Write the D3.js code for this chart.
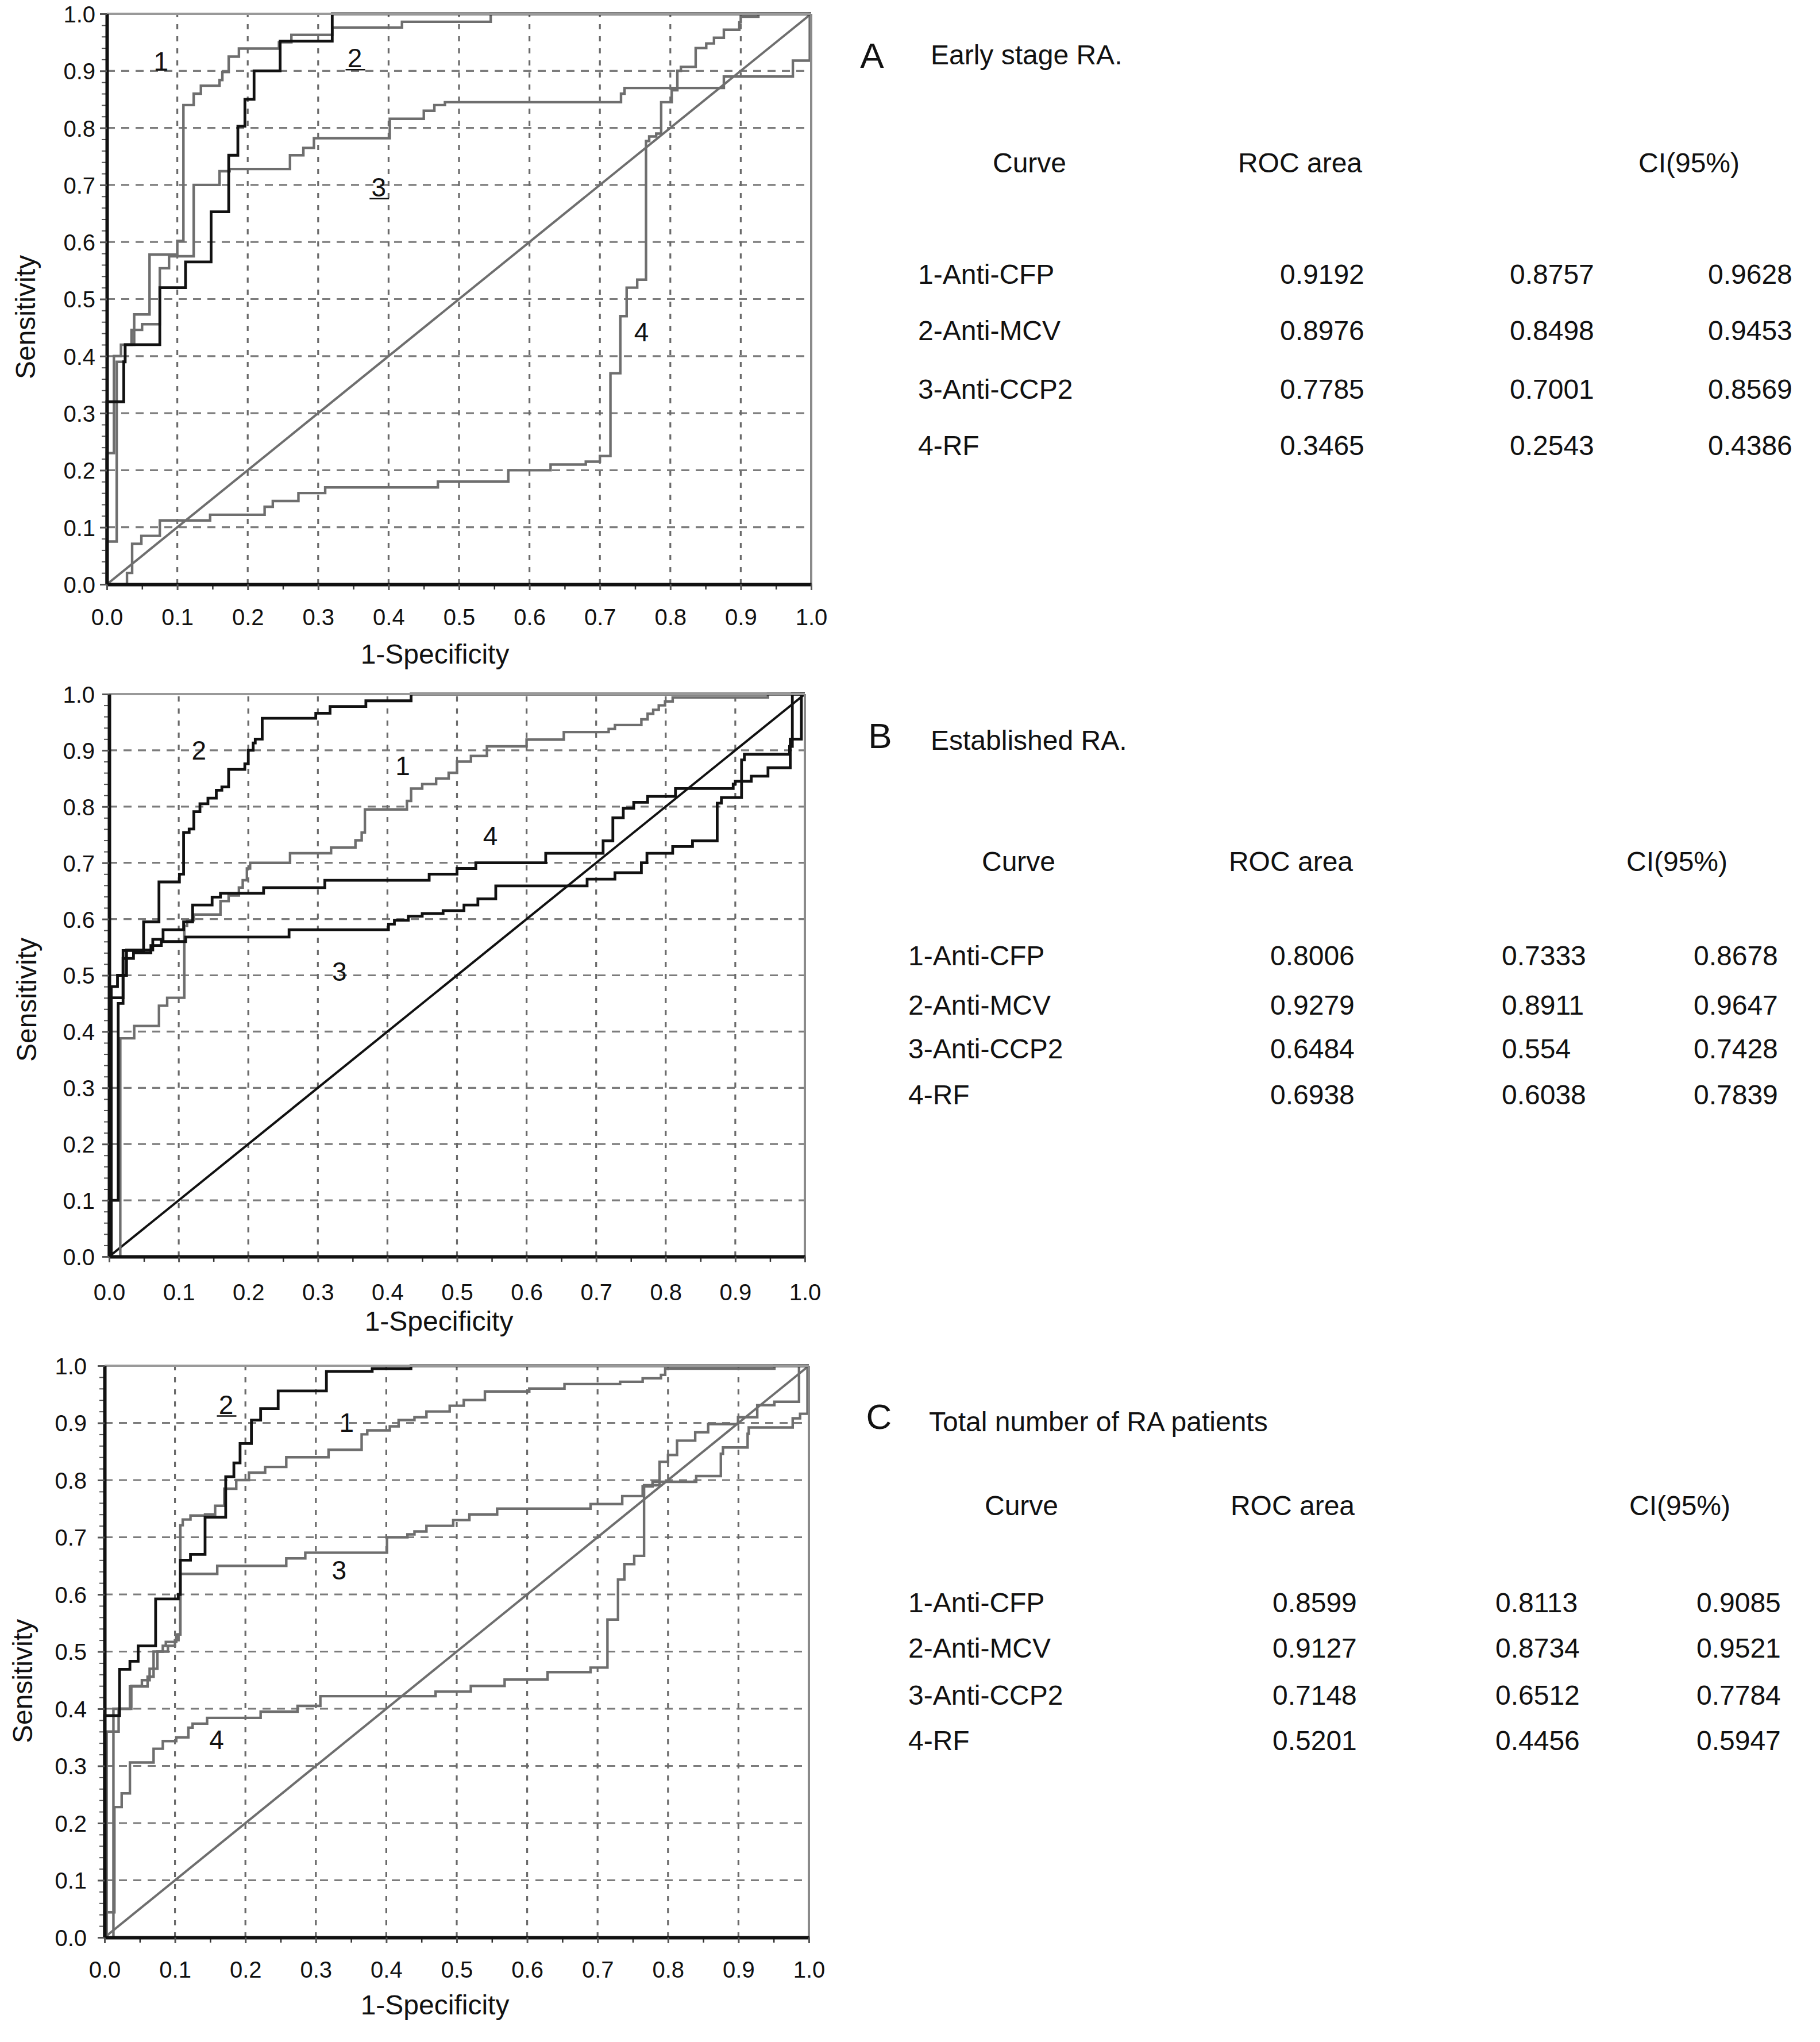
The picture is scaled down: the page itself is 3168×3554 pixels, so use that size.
<!DOCTYPE html>
<html>
<head>
<meta charset="utf-8">
<script src="https://cdnjs.cloudflare.com/ajax/libs/d3/7.8.5/d3.min.js"></script>
<style>
  body { margin: 0; background: #fff; }
  svg { display: block; }
  text { font-family: "Liberation Sans", Arial, Helvetica, sans-serif; fill: #111; }
</style>
</head>
<body>
<div class="canva"></div>
<script>
const width = 3168
const height = 3554

// axis ticks
const ticks = [0, 0.1, 0.2, 0.3, 0.4, 0.5, 0.6, 0.7, 0.8, 0.9, 1.0]
const tickText = ["0.0", "0.1", "0.2", "0.3", "0.4", "0.5", "0.6", "0.7", "0.8", "0.9", "1.0"]

// ROC curves, [1-specificity, sensitivity] at each step
// panel A - early stage RA
const cfpA = [[0,0],[0,0.075],[0.014,0.39],[0.026,0.42],[0.0388,0.473],[0.0606,0.578],[0.1,0.602],[0.1087,0.84],[0.1233,0.86],[0.1335,0.874],[0.16,0.884],[0.164,0.898],[0.173,0.925],[0.1875,0.939],[0.2443,0.95],[0.262,0.963],[0.32,0.976],[0.419,0.986],[0.545,1],[1,1]]
const mcvA = [[0,0],[0,0.32],[0.024,0.39],[0.026,0.42],[0.0752,0.52],[0.1117,0.565],[0.148,0.653],[0.173,0.752],[0.186,0.803],[0.196,0.85],[0.209,0.9],[0.246,0.952],[0.32,1],[1,1]]
const ccp2A = [[0,0],[0,0.23],[0.01,0.4],[0.02,0.42],[0.035,0.446],[0.05,0.456],[0.0752,0.554],[0.0883,0.575],[0.1233,0.7],[0.16,0.724],[0.1743,0.728],[0.26,0.752],[0.279,0.765],[0.294,0.782],[0.4017,0.816],[0.45,0.83],[0.465,0.84],[0.48,0.845],[0.73,0.86],[0.735,0.87],[0.876,0.89],[0.974,0.918],[0.998,1],[1,1]]
const rfA = [[0,0],[0.0286,0.02],[0.0359,0.071],[0.049,0.085],[0.0752,0.112],[0.1466,0.122],[0.224,0.136],[0.2356,0.146],[0.272,0.16],[0.31,0.17],[0.47,0.18],[0.57,0.2],[0.63,0.21],[0.68,0.215],[0.7,0.225],[0.715,0.37],[0.729,0.47],[0.738,0.52],[0.753,0.534],[0.7655,0.777],[0.77,0.785],[0.78,0.79],[0.787,0.845],[0.802,0.866],[0.81,0.9],[0.815,0.907],[0.836,0.94],[0.851,0.948],[0.862,0.958],[0.876,0.972],[0.898,0.985],[0.9,0.995],[0.925,1],[1,1]]

// panel B - established RA
const cfpB = [[0,0],[0.016,0.388],[0.036,0.41],[0.0716,0.446],[0.0834,0.46],[0.108,0.588],[0.112,0.598],[0.1217,0.608],[0.16,0.632],[0.1717,0.642],[0.1865,0.656],[0.192,0.669],[0.198,0.69],[0.2026,0.7],[0.26,0.717],[0.319,0.727],[0.354,0.74],[0.363,0.754],[0.3676,0.795],[0.428,0.81],[0.434,0.832],[0.45,0.84],[0.47,0.85],[0.488,0.86],[0.5,0.88],[0.52,0.89],[0.543,0.907],[0.6,0.919],[0.6535,0.9325],[0.718,0.938],[0.727,0.945],[0.765,0.955],[0.774,0.965],[0.782,0.972],[0.79,0.98],[0.799,0.987],[0.81,0.994],[0.947,1],[1,1]]
const mcvB = [[0,0],[0,0.1],[0.013,0.45],[0.02,0.544],[0.0495,0.595],[0.0716,0.666],[0.101,0.68],[0.107,0.754],[0.115,0.76],[0.1217,0.791],[0.1305,0.805],[0.142,0.815],[0.154,0.829],[0.162,0.835],[0.1717,0.866],[0.195,0.876],[0.2,0.9],[0.207,0.913],[0.21,0.92],[0.22,0.957],[0.297,0.966],[0.3175,0.978],[0.369,0.988],[0.434,1],[1,1]]
const ccp2B = [[0,0],[0.003,0.48],[0.012,0.5],[0.025,0.53],[0.035,0.54],[0.06,0.553],[0.075,0.56],[0.11,0.568],[0.2586,0.581],[0.4015,0.591],[0.41,0.598],[0.43,0.605],[0.45,0.61],[0.48,0.615],[0.51,0.625],[0.53,0.636],[0.5557,0.659],[0.687,0.671],[0.727,0.6825],[0.765,0.7],[0.773,0.717],[0.81,0.729],[0.8385,0.739],[0.874,0.806],[0.88,0.816],[0.909,0.883],[0.913,0.893],[0.978,0.907],[0.982,1],[1,1]]
const rfB = [[0,0],[0.003,0.46],[0.02,0.53],[0.025,0.545],[0.0627,0.564],[0.0775,0.581],[0.107,0.595],[0.12,0.625],[0.148,0.639],[0.16,0.646],[0.222,0.656],[0.31,0.669],[0.46,0.68],[0.5,0.69],[0.527,0.7],[0.6275,0.717],[0.71,0.739],[0.724,0.78],[0.739,0.797],[0.754,0.8075],[0.774,0.818],[0.814,0.832],[0.897,0.84],[0.9,0.845],[0.923,0.854],[0.947,0.869],[0.979,0.92],[0.995,1],[1,1]]

// panel C - total number of RA patients
const cfpC = [[0,0],[0.0126,0.4],[0.036,0.439],[0.0611,0.456],[0.0696,0.5],[0.0827,0.51],[0.087,0.517],[0.1018,0.53],[0.1076,0.721],[0.111,0.731],[0.122,0.738],[0.1427,0.74],[0.157,0.755],[0.17,0.785],[0.187,0.8],[0.205,0.813],[0.228,0.823],[0.258,0.84],[0.318,0.853],[0.365,0.88],[0.373,0.887],[0.405,0.894],[0.4175,0.905],[0.44,0.91],[0.457,0.92],[0.49,0.93],[0.51,0.94],[0.54,0.955],[0.603,0.96],[0.653,0.968],[0.732,0.972],[0.764,0.978],[0.79,0.984],[0.796,0.995],[0.951,1],[1,1]]
const mcvC = [[0,0],[0,0.388],[0.0213,0.469],[0.036,0.483],[0.0477,0.51],[0.0725,0.592],[0.1047,0.6],[0.1076,0.66],[0.122,0.67],[0.1427,0.735],[0.172,0.806],[0.1836,0.83],[0.1924,0.864],[0.2085,0.905],[0.2216,0.925],[0.2465,0.956],[0.315,0.99],[0.38,0.995],[0.435,1],[1,1]]
const ccp2C = [[0,0],[0.003,0.36],[0.02,0.4],[0.038,0.44],[0.053,0.45],[0.064,0.47],[0.075,0.5],[0.09,0.51],[0.1,0.52],[0.105,0.53],[0.1076,0.636],[0.16,0.65],[0.258,0.663],[0.285,0.673],[0.401,0.7],[0.43,0.705],[0.44,0.71],[0.457,0.72],[0.495,0.73],[0.518,0.74],[0.5574,0.75],[0.69,0.758],[0.735,0.772],[0.764,0.789],[0.778,0.797],[0.84,0.807],[0.875,0.846],[0.878,0.857],[0.913,0.881],[0.9146,0.892],[0.977,0.908],[0.9875,0.916],[0.998,1],[1,1]]
const rfC = [[0,0],[0,0.044],[0.014,0.228],[0.0243,0.252],[0.036,0.306],[0.0696,0.33],[0.0827,0.3435],[0.1018,0.35],[0.119,0.367],[0.125,0.374],[0.1456,0.384],[0.2216,0.395],[0.274,0.405],[0.3064,0.422],[0.47,0.43],[0.52,0.44],[0.568,0.451],[0.629,0.464],[0.69,0.472],[0.714,0.556],[0.729,0.626],[0.738,0.653],[0.752,0.6675],[0.766,0.791],[0.788,0.832],[0.8,0.844],[0.8128,0.869],[0.8386,0.8835],[0.857,0.898],[0.8994,0.91],[0.9267,0.931],[0.951,0.937],[0.986,1],[1,1]]

// curve number labels [text, 1-specificity, sensitivity]
const labelsA = [["1", 0.077, 0.9], ["2", 0.352, 0.906], ["3", 0.386, 0.68], ["4", 0.759, 0.426]]
const labelsB = [["2", 0.129, 0.884], ["1", 0.422, 0.856], ["4", 0.548, 0.731], ["3", 0.331, 0.49]]
const labelsC = [["2", 0.1725, 0.916], ["1", 0.3436, 0.884], ["3", 0.333, 0.626], ["4", 0.159, 0.33]]

// tables
const panelLetters = ["A", "B", "C"]
const panelTitles = ["Early stage RA.", "Established RA.", "Total number of RA patients"]
const headers = ["Curve", "ROC area", "CI(95%)"]
const curveNames = ["1-Anti-CFP", "2-Anti-MCV", "3-Anti-CCP2", "4-RF"]
const rocA = ["0.9192", "0.8976", "0.7785", "0.3465"]
const loA = ["0.8757", "0.8498", "0.7001", "0.2543"]
const hiA = ["0.9628", "0.9453", "0.8569", "0.4386"]
const rocB = ["0.8006", "0.9279", "0.6484", "0.6938"]
const loB = ["0.7333", "0.8911", "0.554", "0.6038"]
const hiB = ["0.8678", "0.9647", "0.7428", "0.7839"]
const rocC = ["0.8599", "0.9127", "0.7148", "0.5201"]
const loC = ["0.8113", "0.8734", "0.6512", "0.4456"]
const hiC = ["0.9085", "0.9521", "0.7784", "0.5947"]

const GRAY = "#6e6e6e"
const BLACK = "#111"

// layout of the three panels (pixels)
const panels = [
  {
    box: { l: 186, r: 1412, t: 24, b: 1017 }, xPad: 33, yPad: 8,
    xTitle: [757, 1155], yTitle: [44, 552],
    curves: [[cfpA, GRAY], [ccp2A, GRAY], [rfA, GRAY], [mcvA, BLACK]], diag: GRAY,
    labels: labelsA, underline: ["2", "3"],
    letter: [1518, 118], title: [1620, 112], headX: [1792, 2263, 2940], headY: 300,
    nameX: 1598, colX: [2228, 2628, 2973], rowY: [494, 592, 694, 792],
    cols: [rocA, loA, hiA]
  },
  {
    box: { l: 190, r: 1401, t: 1208, b: 2187 }, xPad: 38, yPad: 13,
    xTitle: [764, 2316], yTitle: [46, 1740],
    curves: [[cfpB, GRAY], [ccp2B, BLACK], [rfB, BLACK], [mcvB, BLACK]], diag: BLACK,
    labels: labelsB, underline: [],
    letter: [1532, 1302], title: [1620, 1305], headX: [1773, 2247, 2919], headY: 1516,
    nameX: 1581, colX: [2211, 2614, 2948], rowY: [1680, 1766, 1842, 1922],
    cols: [rocB, loB, hiB]
  },
  {
    box: { l: 182, r: 1408, t: 2377, b: 3372 }, xPad: 32, yPad: 19,
    xTitle: [757, 3506], yTitle: [39, 2926],
    curves: [[cfpC, GRAY], [ccp2C, GRAY], [rfC, GRAY], [mcvC, BLACK]], diag: GRAY,
    labels: labelsC, underline: ["2"],
    letter: [1530, 2487], title: [1617, 2491], headX: [1778, 2250, 2924], headY: 2637,
    nameX: 1581, colX: [2215, 2603, 2953], rowY: [2806, 2885, 2967, 3046],
    cols: [rocC, loC, hiC]
  }
]

const svg = d3.select(".canva").append("svg").attr("width", width).attr("height", height)

panels.forEach((p, i) => drawPanel(p, i))

function drawPanel(p, i) {
  const x = d3.scaleLinear().domain([0, 1]).range([p.box.l, p.box.r])
  const y = d3.scaleLinear().domain([0, 1]).range([p.box.b, p.box.t])
  const g = svg.append("g")

  // dashed grid
  g.selectAll(".hg").data(ticks.slice(1, -1)).enter().append("line")
    .attr("x1", x(0)).attr("x2", x(1)).attr("y1", d => y(d)).attr("y2", d => y(d))
    .attr("stroke", "#7c7c7c").attr("stroke-width", 3.2).attr("stroke-dasharray", "14,11")
  g.selectAll(".vg").data(ticks.slice(1, -1)).enter().append("line")
    .attr("y1", y(0)).attr("y2", y(1)).attr("x1", d => x(d)).attr("x2", d => x(d))
    .attr("stroke", "#6a6a6a").attr("stroke-width", 3.2).attr("stroke-dasharray", "9,12")

  // chance line
  g.append("line")
    .attr("x1", x(0)).attr("y1", y(0)).attr("x2", x(1)).attr("y2", y(1))
    .attr("stroke", p.diag).attr("stroke-width", 4)

  // ROC step curves
  const line = d3.line().x(d => x(d[0])).y(d => y(d[1])).curve(d3.curveStepAfter)
  p.curves.forEach(c => {
    g.append("path").attr("d", line(c[0]))
      .attr("fill", "none").attr("stroke", c[1])
      .attr("stroke-width", c[1] === BLACK ? 4.8 : 4.4)
      .attr("stroke-linejoin", "miter")
  })

  // frame top/right
  g.append("line").attr("x1", x(0)).attr("x2", x(1)).attr("y1", y(1)).attr("y2", y(1))
    .attr("stroke", "#999").attr("stroke-width", 4)
  g.append("line").attr("x1", x(1)).attr("x2", x(1)).attr("y1", y(0)).attr("y2", y(1))
    .attr("stroke", "#8a8a8a").attr("stroke-width", 4)

  // minor ticks
  const minorX = d3.range(0.05, 1, 0.1)
  const minorY = d3.range(0, 101, 2).filter(v => v % 10 !== 0).map(v => v / 100)
  g.append("g").attr("transform", `translate(0,${p.box.b})`)
    .call(d3.axisBottom(x).tickValues(minorX).tickSize(9).tickFormat(""))
    .call(a => a.select(".domain").remove())
    .call(a => a.selectAll("line").attr("stroke", "#333").attr("stroke-width", 2.5))
  g.append("g").attr("transform", `translate(${p.box.l},0)`)
    .call(d3.axisLeft(y).tickValues(minorY).tickSize(9).tickFormat(""))
    .call(a => a.select(".domain").remove())
    .call(a => a.selectAll("line").attr("stroke", "#555").attr("stroke-width", 2))

  // main axes
  const xAxis = d3.axisBottom(x).tickValues(ticks).tickFormat((d, k) => tickText[k])
    .tickSize(10).tickSizeOuter(0).tickPadding(p.xPad)
  const yAxis = d3.axisLeft(y).tickValues(ticks).tickFormat((d, k) => tickText[k])
    .tickSize(12).tickSizeOuter(0).tickPadding(p.yPad)
  const gx = g.append("g").attr("transform", `translate(0,${p.box.b})`).call(xAxis)
  const gy = g.append("g").attr("transform", `translate(${p.box.l},0)`).call(yAxis)
  ;[gx, gy].forEach(a => {
    a.select(".domain").attr("stroke", BLACK).attr("stroke-width", 6)
    a.selectAll(".tick line").attr("stroke", "#555").attr("stroke-width", 3)
    a.selectAll(".tick text").attr("font-size", 40).attr("fill", "#111")
      .attr("font-family", '"Liberation Sans", Arial, sans-serif')
  })
  gy.selectAll(".tick text").attr("dy", "0.36em")

  // axis titles
  g.append("text").attr("x", p.xTitle[0]).attr("y", p.xTitle[1])
    .attr("text-anchor", "middle").attr("font-size", 48).text("1-Specificity")
  g.append("text").attr("transform", `translate(${p.yTitle[0]},${p.yTitle[1]}) rotate(-90)`)
    .attr("text-anchor", "middle").attr("dy", "0.35em").attr("font-size", 48).text("Sensitivity")

  // curve numbers
  p.labels.forEach(l => {
    g.append("text").attr("x", x(l[1])).attr("y", y(l[2]))
      .attr("text-anchor", "middle").attr("font-size", 46).text(l[0])
    if (p.underline.includes(l[0])) {
      g.append("line").attr("x1", x(l[1]) - 16).attr("x2", x(l[1]) + 18)
        .attr("y1", y(l[2]) + 4).attr("y2", y(l[2]) + 4)
        .attr("stroke", BLACK).attr("stroke-width", 2.5)
    }
  })

  // table
  const t = svg.append("g")
  t.append("text").attr("x", p.letter[0]).attr("y", p.letter[1])
    .attr("text-anchor", "middle").attr("font-size", 62).text(panelLetters[i])
  t.append("text").attr("x", p.title[0]).attr("y", p.title[1])
    .attr("font-size", 48).text(panelTitles[i])
  t.selectAll(".hd").data(headers).enter().append("text")
    .attr("x", (d, k) => p.headX[k]).attr("y", p.headY)
    .attr("text-anchor", "middle").attr("font-size", 48).text(d => d)
  t.selectAll(".nm").data(curveNames).enter().append("text")
    .attr("x", p.nameX).attr("y", (d, k) => p.rowY[k])
    .attr("font-size", 48).text(d => d)
  p.cols.forEach((col, c) => {
    t.selectAll(".v" + c).data(col).enter().append("text")
      .attr("x", p.colX[c]).attr("y", (d, k) => p.rowY[k])
      .attr("font-size", 48).text(d => d)
  })
}
</script>
</body>
</html>
